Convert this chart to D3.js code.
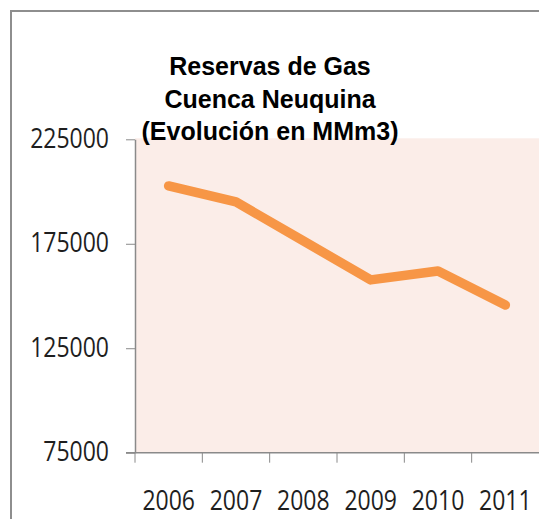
<!DOCTYPE html>
<html>
<head>
<meta charset="utf-8">
<script src="https://cdn.jsdelivr.net/npm/d3@7"></script>
<style>
  body { margin:0; background:#fff; }
  svg { display:block; }
</style>
</head>
<body>
<div id="chart"></div>
<script>
let years = ["2006","2007","2008","2009","2010","2011"]
let reservas = [202700, 195000, 176400, 157700, 162000, 145700]
let yTicks = [75000, 125000, 175000, 225000]
let titleLines = ["Reservas de Gas", "Cuenca Neuquina", "(Evolución en MMm3)"]

function render(){
  let width = 539,
      height = 519,
      margin = { top:139.3, right:0, left:135, bottom:66.3 },
      innerWidth = width - margin.left - margin.right,
      innerHeight = height - margin.top - margin.bottom,
      stretch = 1.18;

  let svg = d3.select("#chart").append("svg").attr("width",width).attr("height",height)

  // outer chart frame, runs off the right and bottom edges
  svg.append("rect").attr("x",11).attr("y",11).attr("width",700).attr("height",700)
     .attr("fill","none").attr("stroke","#8e8e8e").attr("stroke-width",2)

  let g = svg.append("g").attr("transform",`translate(${margin.left},${margin.top})`)

  let xScale = d3.scaleBand().domain(years).range([0,innerWidth]).padding(0)
  let yScale = d3.scaleLinear().domain([75000,225000]).range([innerHeight,0])

  g.append("rect").attr("x",0).attr("y",-1).attr("width",innerWidth).attr("height",innerHeight+1)
   .attr("fill","#fbede8")

  // y axis
  let yAxis = d3.axisLeft(yScale).tickValues(yTicks).tickFormat(d3.format("d"))
     .tickSize(9).tickSizeOuter(0).tickPadding(17)
  let yGroup = g.append("g").call(yAxis)
  yGroup.select(".domain").attr("stroke","#8a8a8a").attr("stroke-width",1.5)
  yGroup.selectAll(".tick line").attr("stroke","#8a8a8a")
  yGroup.selectAll("text")
     .attr("font-family","'Open Sans', sans-serif").attr("font-size",23).attr("fill","#1e1e1e")
     .attr("dy",0).attr("y",8/stretch).attr("transform",`scale(1,${stretch})`)

  // x axis: labels at band centres, ticks at band edges
  let xAxis = d3.axisBottom(xScale).tickSize(0).tickSizeOuter(0)
  let xGroup = g.append("g").attr("transform",`translate(0,${innerHeight})`).call(xAxis)
  xGroup.select(".domain").remove()
  xGroup.selectAll("text")
     .attr("font-family","'Open Sans', sans-serif").attr("font-size",23).attr("fill","#1e1e1e")
     .attr("dy",0).attr("y",57.5/stretch).attr("transform",`scale(1,${stretch})`)

  xGroup.append("line").attr("x1",-9).attr("x2",innerWidth).attr("y1",0).attr("y2",0)
     .attr("stroke","#8a8a8a").attr("stroke-width",1.5)
  xGroup.selectAll(".edge").data(years).enter().append("line").attr("class","edge")
     .attr("x1",d=>xScale(d)).attr("x2",d=>xScale(d)).attr("y1",0).attr("y2",10)
     .attr("stroke","#8a8a8a")

  let lineGen = d3.line()
     .x((d,i)=>xScale(years[i]) + xScale.bandwidth()/2)
     .y(d=>yScale(d))

  g.append("path").attr("d",lineGen(reservas))
   .attr("fill","none").attr("stroke","#f79646").attr("stroke-width",9.5)
   .attr("stroke-linecap","round").attr("stroke-linejoin","round")

  svg.append("g").selectAll("text").data(titleLines).enter().append("text")
     .attr("x",270).attr("y",(d,i)=>75 + i*32.5)
     .attr("text-anchor","middle")
     .attr("font-family","'Liberation Sans', Arial, sans-serif").attr("font-weight","bold")
     .attr("font-size",25).attr("fill","#000")
     .text(d=>d)
}

render()
</script>
</body>
</html>
